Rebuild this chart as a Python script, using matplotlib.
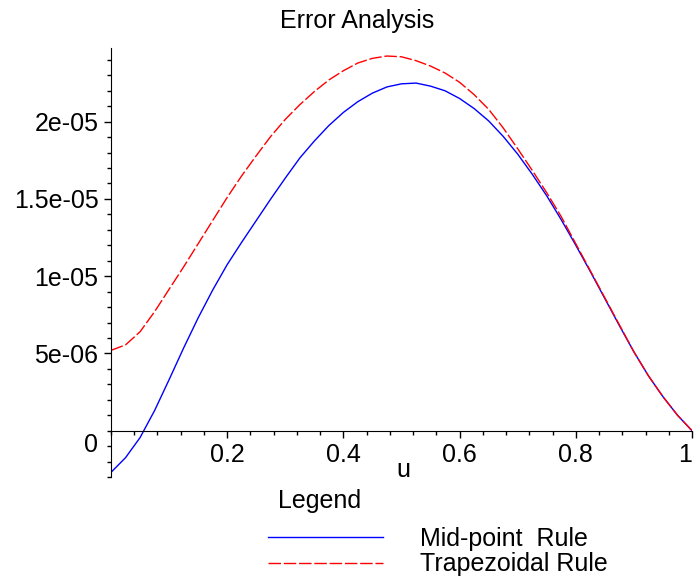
import numpy as np
import matplotlib
matplotlib.use('Agg')
import matplotlib.pyplot as plt
from matplotlib.ticker import MultipleLocator

plt.rcParams['font.family'] = ['Liberation Sans', 'DejaVu Sans']
plt.rcParams['font.size'] = 18

# values, u in steps of 0.025 (error in units of 1e-6)
u = np.linspace(0, 1, 41)
midpoint = [-2.7, -1.75, -0.45, 1.3, 3.3, 5.35, 7.3, 9.1, 10.75, 12.2,
            13.6, 15.0, 16.35, 17.65, 18.75, 19.75, 20.6, 21.3, 21.85, 22.25,
            22.45, 22.5, 22.3, 22.0, 21.5, 20.85, 20.05, 19.05, 17.9, 16.6,
            15.2, 13.65, 12.0, 10.3, 8.55, 6.8, 5.1, 3.55, 2.2, 1.0, 0.0]
trapezoid = [5.2, 5.55, 6.4, 7.7, 9.15, 10.6, 12.1, 13.6, 15.1, 16.5,
             17.8, 19.05, 20.15, 21.1, 21.95, 22.7, 23.3, 23.8, 24.1, 24.25,
             24.2, 23.95, 23.6, 23.15, 22.55, 21.75, 20.8, 19.6, 18.25, 16.85,
             15.4, 13.85, 12.1, 10.35, 8.6, 6.85, 5.1, 3.55, 2.2, 1.0, 0.0]
labels = ['Mid-point  Rule', 'Trapezoidal Rule']

xticks = [0.2, 0.4, 0.6, 0.8, 1.0]
xticklabels = ['0.2', '0.4', '0.6', '0.8', '1']
yticks = [5e-6, 1e-5, 1.5e-5, 2e-5]
yticklabels = ['5e-06', '1e-05', '1.5e-05', '2e-05']

W, H = 695, 581
fig = plt.figure(figsize=(W / 100, H / 100), dpi=100)
ax = fig.add_axes([111 / W, 1 - 477 / H, 581 / W, (477 - 48.3) / H])

scale = 1e-6
ax.plot(u, np.array(midpoint) * scale, color='#0000ff', lw=1.0, label=labels[0])
ax.plot(u, np.array(trapezoid) * scale, color='#ff0000', lw=1.0,
        dashes=(9, 2), label=labels[1])

ax.set_xlim(0, 1)
ax.set_ylim(-3e-6, 2.475e-5)

# axes through the origin, maple style
ax.spines['left'].set_position(('data', 0))
ax.spines['bottom'].set_position(('data', 0))
ax.spines['top'].set_visible(False)
ax.spines['right'].set_visible(False)

ax.set_xticks(xticks, labels=xticklabels)
ax.set_yticks(yticks, labels=yticklabels)
ax.xaxis.set_minor_locator(MultipleLocator(0.04))
ax.yaxis.set_minor_locator(MultipleLocator(1e-6))
ax.tick_params(which='major', length=5, width=1, pad=4)
ax.tick_params(which='minor', length=3, width=1)
# last label sits at the right edge of the picture
ax.get_xticklabels()[-1].set_horizontalalignment('right')
ax.get_xticklabels()[-1].set_x(1.0)

# "0" label sits a bit below the x axis
ax.annotate('0', xy=(0, 0), xycoords='data', xytext=(-13, -2),
            textcoords='offset pixels', ha='right', va='top')
ax.annotate('u', xy=(0.5, 0), xycoords='data', xytext=(2, -46),
            textcoords='offset pixels', ha='center', va='baseline')

fig.text(357 / W, 1 - 28 / H, 'Error Analysis', ha='center', va='baseline')

# legend under the plot
fig.text(278 / W, 1 - 508 / H, 'Legend', ha='left', va='baseline')
ax.legend(loc='upper left', bbox_to_anchor=(268 / W, 1 - 527 / H),
          bbox_transform=fig.transFigure, frameon=False, borderpad=0,
          borderaxespad=0, handlelength=4.6, handletextpad=1.5,
          labelspacing=0.05, fontsize=18)

fig.savefig('out.png', dpi=100)
